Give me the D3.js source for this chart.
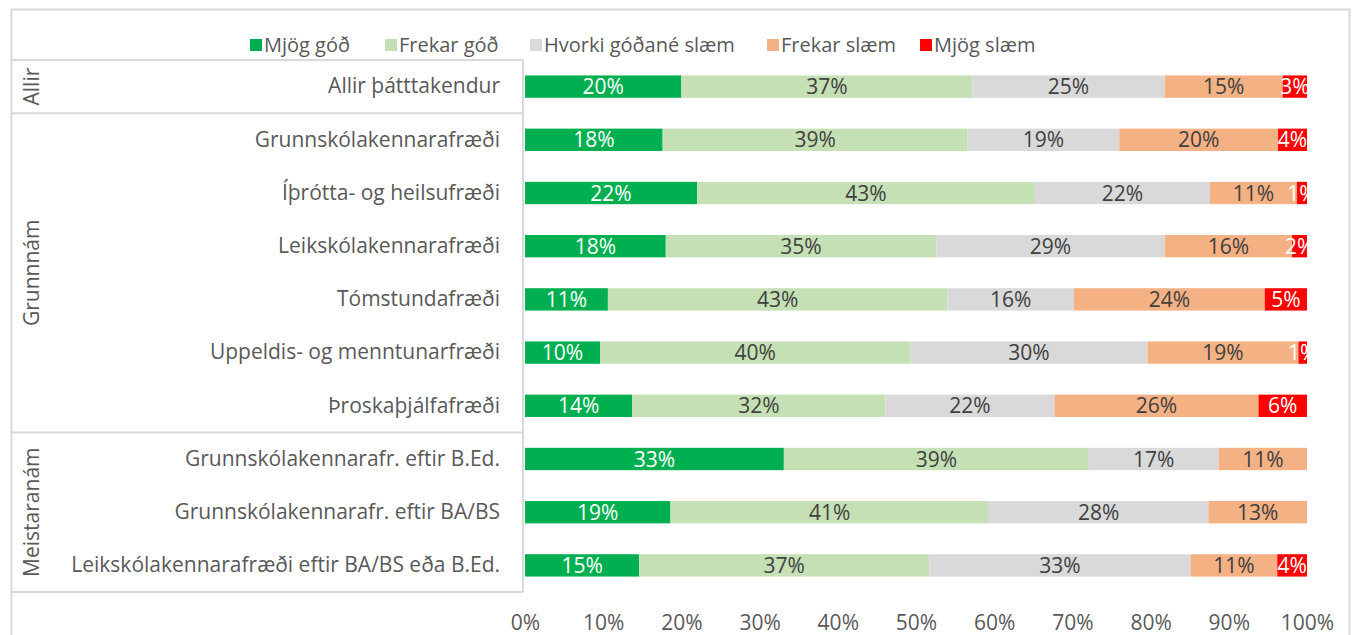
<!DOCTYPE html>
<html>
<head>
<meta charset="utf-8">
<script src="https://cdn.jsdelivr.net/npm/d3@7"></script>
<style>
  body { margin: 0; background: #fff; }
  svg text { font-family: "Open Sans", sans-serif; }
</style>
</head>
<body>
<div id="chart"></div>
<script>
// Stacked 100% bar chart - satisfaction by study program

const categories = [
  'Allir þátttakendur',
  'Grunnskólakennarafræði',
  'Íþrótta- og heilsufræði',
  'Leikskólakennarafræði',
  'Tómstundafræði',
  'Uppeldis- og menntunarfræði',
  'Þroskaþjálfafræði',
  'Grunnskólakennarafr. eftir B.Ed.',
  'Grunnskólakennarafr. eftir BA/BS',
  'Leikskólakennarafræði eftir BA/BS eða B.Ed.'
];

const groupNames = ['Allir', 'Grunnnám', 'Meistaranám'];
const groupSizes = [1, 6, 3];

const seriesNames = ['Mjög góð', 'Frekar góð', 'Hvorki góðané slæm', 'Frekar slæm', 'Mjög slæm'];
const seriesColors = ['#00b050', '#c5e0b4', '#d9d9d9', '#f4b183', '#ff0000'];
const labelColors = ['#ffffff', '#404040', '#404040', '#404040', '#ffffff'];

// values per series, in category order (percent)
const mjogGod     = [20.0, 17.6, 22.0, 18.0, 10.6,  9.6, 13.7, 33.1, 18.6, 14.6];
const frekarGod   = [37.2, 39.0, 43.2, 34.6, 43.4, 39.7, 32.4, 39.0, 40.7, 37.1];
const hvorki      = [24.6, 19.4, 22.4, 29.2, 16.2, 30.3, 21.6, 16.6, 28.1, 33.4];
const frekarSlaem = [15.1, 20.3, 11.1, 16.3, 24.4, 19.3, 26.1, 11.3, 12.6, 11.1];
const mjogSlaem   = [ 3.1,  3.7,  1.3,  1.9,  5.4,  1.1,  6.2,  0.0,  0.0,  3.8];

const xTicks = [0, 10, 20, 30, 40, 50, 60, 70, 80, 90, 100];

const W = 1357, H = 635;
const plot = { left: 525, right: 1307, top: 60, bottom: 592 };
const FS = 21;

const svg = d3.select('#chart').append('svg')
  .attr('width', W)
  .attr('height', H);

// chart border
svg.append('rect')
  .attr('x', 11.5).attr('y', 9.5)
  .attr('width', 1338).attr('height', H)
  .attr('fill', 'none')
  .attr('stroke', '#d9d9d9')
  .attr('stroke-width', 2);

const x = d3.scaleLinear().domain([0, 100]).range([plot.left, plot.right]);
const y = d3.scaleBand().domain(categories).range([plot.top, plot.bottom]).paddingInner(0.58).paddingOuter(0.29);

const allSeries = [mjogGod, frekarGod, hvorki, frekarSlaem, mjogSlaem];
const rows = categories.map((c, i) => {
  const r = { cat: c };
  seriesNames.forEach((s, j) => { r[s] = allSeries[j][i]; });
  return r;
});
const stacked = d3.stack().keys(seriesNames)(rows);

// clip for labels at plot edge
svg.append('clipPath').attr('id', 'plotClip')
  .append('rect')
  .attr('x', plot.left).attr('y', plot.top)
  .attr('width', plot.right - plot.left).attr('height', plot.bottom - plot.top);

const layers = svg.append('g').selectAll('g')
  .data(stacked)
  .enter().append('g')
  .attr('fill', (d, i) => seriesColors[i]);

layers.selectAll('rect')
  .data(d => d)
  .enter().append('rect')
  .attr('x', d => x(d[0]))
  .attr('y', d => y(d.data.cat))
  .attr('width', d => x(d[1]) - x(d[0]))
  .attr('height', y.bandwidth());

// data labels
const labels = svg.append('g').attr('clip-path', 'url(#plotClip)');
stacked.forEach((layer, i) => {
  labels.selectAll('.lbl' + i)
    .data(layer.filter(d => d[1] - d[0] > 0))
    .enter().append('text')
    .attr('class', 'lbl' + i)
    .attr('x', d => (x(d[0]) + x(d[1])) / 2)
    .attr('y', d => y(d.data.cat) + y.bandwidth() / 2)
    .attr('dy', '0.36em')
    .attr('text-anchor', 'middle')
    .attr('font-size', FS)
    .attr('fill', labelColors[i])
    .text(d => Math.round(d[1] - d[0]) + '%');
});

// category axis
const yAxis = svg.append('g')
  .attr('transform', `translate(${plot.left - 2},0)`)
  .call(d3.axisLeft(y).tickSize(0).tickPadding(23));
yAxis.select('.domain').remove();
yAxis.selectAll('text')
  .attr('font-size', FS)
  .attr('fill', '#595959')
  .style('font-family', '"Open Sans", sans-serif');

// axis line and group separators
svg.append('line')
  .attr('x1', plot.left - 2).attr('x2', plot.left - 2)
  .attr('y1', plot.top).attr('y2', plot.bottom)
  .attr('stroke', '#d9d9d9').attr('stroke-width', 2);

const step = y.step();
let start = 0;
const bounds = [plot.top];
groupSizes.forEach(n => { start += n; bounds.push(plot.top + start * step); });

svg.append('g').selectAll('line')
  .data(bounds)
  .enter().append('line')
  .attr('x1', 11).attr('x2', plot.left - 2)
  .attr('y1', d => d).attr('y2', d => d)
  .attr('stroke', '#d9d9d9').attr('stroke-width', 2);

svg.append('g').selectAll('text')
  .data(groupNames)
  .enter().append('text')
  .attr('transform', (d, i) => `translate(31,${(bounds[i] + bounds[i + 1]) / 2}) rotate(-90)`)
  .attr('text-anchor', 'middle')
  .attr('dy', '0.36em')
  .attr('font-size', FS)
  .attr('fill', '#595959')
  .text(d => d);

// value axis
const xAxis = svg.append('g')
  .attr('transform', `translate(0,${plot.bottom + 20})`)
  .call(d3.axisBottom(x).tickValues(xTicks).tickSize(0).tickFormat(d => d + '%'));
xAxis.select('.domain').remove();
xAxis.selectAll('text')
  .attr('font-size', FS)
  .attr('fill', '#595959')
  .style('font-family', '"Open Sans", sans-serif');

// legend
const legendX = [250, 385, 530, 767, 920];
const legend = svg.append('g').selectAll('g')
  .data(seriesNames)
  .enter().append('g')
  .attr('transform', (d, i) => `translate(${legendX[i]},45)`);
legend.append('rect')
  .attr('x', 0).attr('y', -6)
  .attr('width', 12).attr('height', 12)
  .attr('fill', (d, i) => seriesColors[i]);
legend.append('text')
  .attr('x', 14)
  .attr('dy', '0.36em')
  .attr('font-size', 20)
  .attr('fill', '#595959')
  .text(d => d);
</script>
</body>
</html>
